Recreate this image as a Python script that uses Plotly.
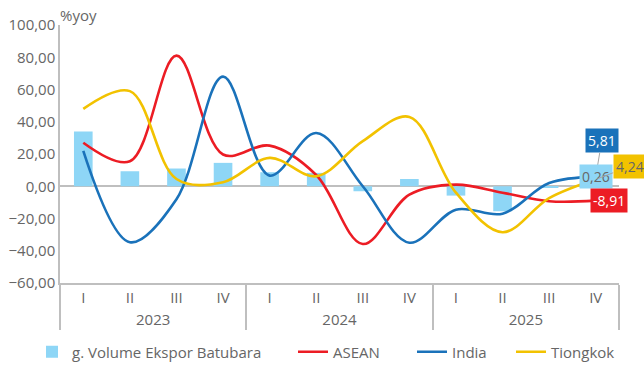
import plotly.graph_objects as go

years = ["2023"] * 4 + ["2024"] * 4 + ["2025"] * 4
quarters = ["I", "II", "III", "IV"] * 3

volume = [34.0, 9.3, 11.0, 14.5, 8.7, 8.3, -3.1, 4.5, -5.8, -15.5, -0.5, 0.26]
asean = [27.0, 15.5, 81.0, 19.7, 25.2, 7.0, -35.8, -5.2, 1.0, -4.0, -9.3, -8.91]
india = [22.0, -34.7, -8.0, 68.0, 6.6, 33.0, 0.0, -35.0, -14.5, -17.0, 2.0, 5.81]
tiongkok = [48.0, 59.0, 4.5, 2.5, 17.6, 6.2, 28.0, 43.0, -4.0, -28.5, -7.3, 4.24]

C_BAR = "#8ED6F6"
C_RED = "#EC1C24"
C_BLUE = "#1A72BA"
C_YEL = "#F2C200"
GRAY = "#666666"
AXIS = "#BFBFBF"
FONT = "Open Sans"
FS = 15

x = [years, quarters]

fig = go.Figure()
fig.add_trace(go.Bar(x=x, y=volume, name="g. Volume Ekspor Batubara", legend="legend",
                     marker=dict(color=C_BAR, line=dict(width=0)), width=0.4))
for name, vals, col, lg in [("ASEAN", asean, C_RED, "legend2"), ("India", india, C_BLUE, "legend3"),
                            ("Tiongkok", tiongkok, C_YEL, "legend4")]:
    fig.add_trace(go.Scatter(x=x, y=vals, name=name, mode="lines", legend=lg,
                             line=dict(color=col, width=2.6, shape="spline", smoothing=1.0)))

def fmt(v):
    return f"{v:.2f}".replace(".", ",")

last = len(volume) - 1
labels = [
    (india[last], C_BLUE, "white", True, 6, -36),
    (volume[last], C_BAR, GRAY, False, 0, 9),
    (tiongkok[last], C_YEL, GRAY, True, 34, -13),
    (asean[last], C_RED, "white", False, 13, 0),
]
for v, bg, fc, arrow, dx, dy in labels:
    kw = dict(showarrow=True, arrowhead=0, arrowwidth=1, arrowcolor="#A6A6A6",
              ax=dx, ay=dy, standoff=2) if arrow else dict(showarrow=False, xshift=dx, yshift=dy)
    fig.add_annotation(x=last, y=v, xref="x", yref="y", text=fmt(v),
                       bgcolor=bg, font=dict(family=FONT, size=14, color=fc),
                       borderpad=2, **kw)

fig.add_annotation(x=0, y=1.0, xref="paper", yref="paper", xanchor="left", yanchor="bottom",
                   text="%yoy", showarrow=False, xshift=-2, yshift=-2,
                   font=dict(family=FONT, size=FS, color=GRAY))

ly = (365 - 352) / 365
def leg(xpx):
    return dict(orientation="h", x=xpx / 644, xref="container", y=ly, yref="container",
                xanchor="left", yanchor="middle", bgcolor="rgba(0,0,0,0)",
                font=dict(family=FONT, size=FS, color=GRAY), itemwidth=30)

fig.update_layout(
    width=644, height=365,
    margin=dict(l=60, r=25, t=25, b=82, autoexpand=False),
    plot_bgcolor="white", paper_bgcolor="white",
    separators=",.",
    font=dict(family=FONT, size=FS, color=GRAY),
    showlegend=True,
    legend=leg(32), legend2=leg(293), legend3=leg(412), legend4=leg(511),
    bargap=0.6,
)
fig.update_yaxes(range=[-60, 100], dtick=20, tickformat=".2f", showgrid=False,
                 zeroline=True, zerolinecolor=AXIS, zerolinewidth=1.5,
                 showline=True, linecolor=AXIS, linewidth=1.5, automargin=False,
                 tickfont=dict(family=FONT, size=FS, color=GRAY))
fig.update_xaxes(type="multicategory", showgrid=False, showline=True, linecolor=AXIS,
                 linewidth=1.5, showdividers=True, dividercolor=AXIS, dividerwidth=1.5,
                 automargin=False,
                 tickfont=dict(family=FONT, size=FS, color=GRAY), range=[-0.5, 11.5])

fig.write_html("out.html")
